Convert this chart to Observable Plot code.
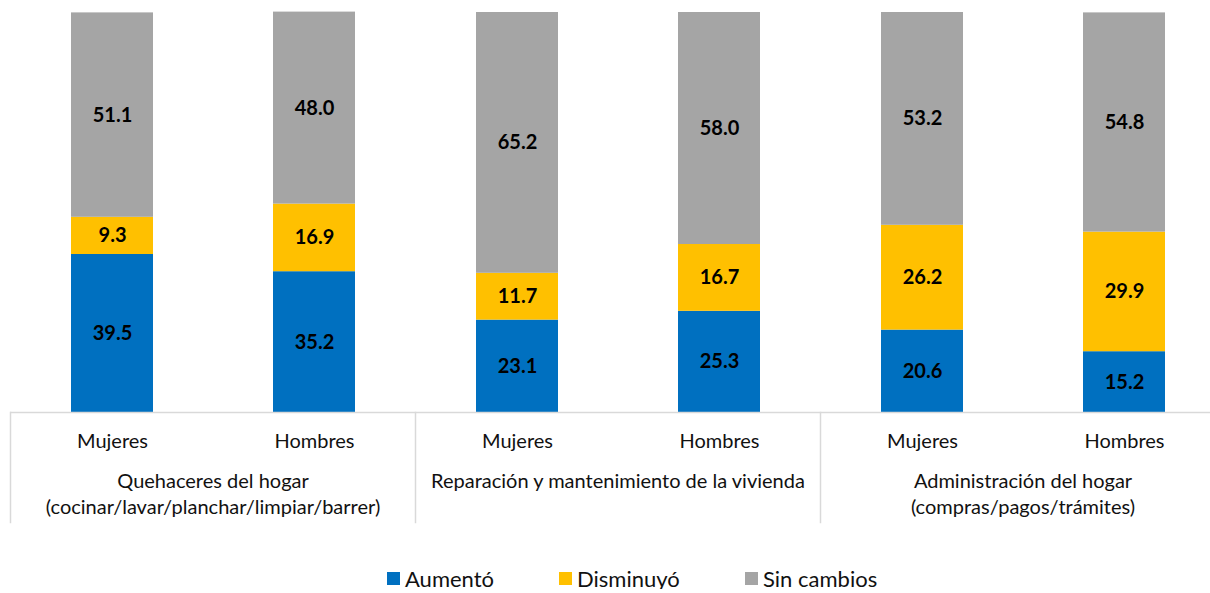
<!DOCTYPE html>
<html><head><meta charset="utf-8">
<script src="https://cdn.jsdelivr.net/npm/d3@7"></script>
<script src="https://cdn.jsdelivr.net/npm/@observablehq/plot@0.6"></script>
<style>
html,body{margin:0;padding:0;overflow:hidden;background:#fff;}
body{font-family:Lato,"Open Sans",sans-serif;width:1210px;}
#chart svg{max-width:none !important;display:block;}
#legend{display:flex;align-items:center;padding-left:387px;margin-top:37px;height:22px;font-size:22px;color:#111;}
#legend .item{display:flex;align-items:center;}
#legend .sw{width:13px;height:13px;margin-right:5px;}
</style></head><body><div id="chart"></div><div id="legend"></div>
<script>
const groups = ["Quehaceres del hogar\n(cocinar/lavar/planchar/limpiar/barrer)", "Reparación y mantenimiento de la vivienda", "Administración del hogar\n(compras/pagos/trámites)"];
const sexes = ["Mujeres", "Hombres"];
const series = ["Aumentó", "Disminuyó", "Sin cambios"];
const colors = ["#0070C0", "#FFC000", "#A5A5A5"];
const aumento    = [39.5, 35.2, 23.1, 25.3, 20.6, 15.2];
const disminuyo  = [9.3, 16.9, 11.7, 16.7, 26.2, 29.9];
const sinCambios = [51.1, 48.0, 65.2, 58.0, 53.2, 54.8];
const seriesValues = [aumento, disminuyo, sinCambios];

const rows = [];
for (let i = 0; i < 6; i++) {
  series.forEach((s, k) => rows.push({group: groups[Math.floor(i / 2)], sex: sexes[i % 2], series: s, value: seriesValues[k][i]}));
}

const W = 1225, H = 530, axisY = 412;
const plot = Plot.plot({
  width: W, height: H,
  marginLeft: 9, marginRight: 0, marginTop: 12, marginBottom: H - axisY,
  style: {fontFamily: "Lato, sans-serif", background: "#fff", color: "#111", maxWidth: "none"},
  fx: {domain: groups, padding: 0, axis: null},
  x: {domain: sexes, paddingInner: 0.595, paddingOuter: 0.2975, axis: null},
  y: {domain: [0, 100], axis: null},
  color: {domain: series, range: colors},
  marks: [
    Plot.frame({anchor: "left", stroke: "#d9d9d9", strokeWidth: 1.5, insetTop: axisY - 12, insetBottom: -110}),
    Plot.barY(rows, Plot.stackY({fx: "group", x: "sex", y: "value", fill: "series"})),
    Plot.ruleY([0], {stroke: "#d9d9d9", strokeWidth: 1.5}),
    Plot.text(rows, Plot.stackY({fx: "group", x: "sex", y: "value", z: "series", text: d => d.value.toFixed(1), fontWeight: "bold", fontSize: 20, fill: "#000"})),
    Plot.axisX({anchor: "bottom", label: null, tickSize: 0, tickPadding: 21, fontSize: 20, fill: "#111"}),
    Plot.text(groups, {fx: d => d, text: d => d, frameAnchor: "bottom", lineAnchor: "top", dy: 57, fontSize: 20, lineHeight: 1.3, fill: "#111"})
  ]
});
document.getElementById("chart").append(plot);

const legend = document.getElementById("legend");
const widths = [172, 186, 200];
series.forEach((s, k) => {
  const it = document.createElement("div");
  it.className = "item";
  it.style.width = widths[k] + "px";
  it.innerHTML = `<span class="sw" style="background:${colors[k]}"></span><span>${s}</span>`;
  legend.append(it);
});
</script>
</body></html>
